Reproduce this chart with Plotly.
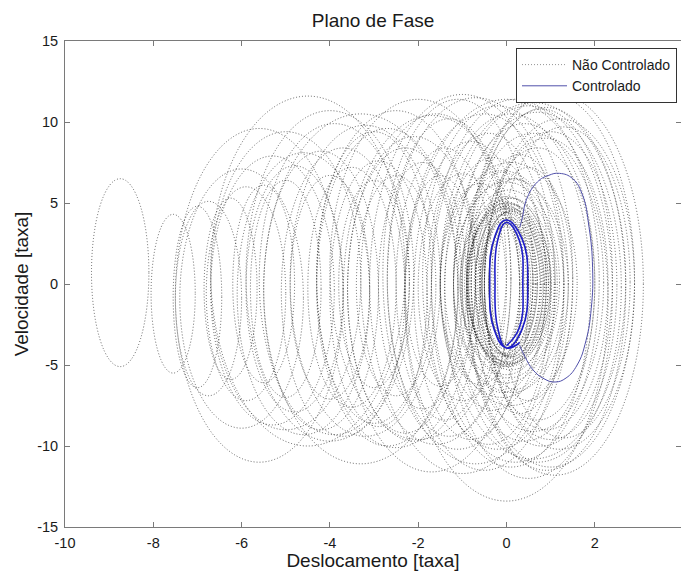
import plotly.graph_objects as go

# ---- Uncontrolled trajectory: loops (center x, center y, half-width, half-height)
loop_cx = [-8.75, -7.55, -7.0, -6.75, -6.25, -5.9, -5.6, -4.8, -4.5, -4.2, -3.9, -3.5, -3.3,
           -3.0, -2.7, -2.3, -2.0, -1.9, -1.6, -1.3, -1.0, -0.8, -0.5, -0.3, 0.0, 0.2, 0.4,
           0.6, 0.7, 0.9, 1.0, 1.1,
           -5.3, -5.0, -4.6, -4.0, -3.7, -3.2, -2.9, -2.5, -2.1, -1.7, -1.4, -1.1, -0.7,
           -0.4, -0.2, 0.1, 0.3, 0.5, 0.8, 1.2, 0.5, 0.2, -0.1, -0.6, -1.0, -1.5, -2.5,
           -3.0, -4.0, -5.0, -5.5, -6.0,
           1.0, 0.7, 0.9, 0.6, 1.3,
           0.0, 0.05, 0.0, 0.05, 0.0, 0.05, 0.0, 0.05, 0.0, 0.05, 0.0, 0.1, -0.1, 0.1,
           -0.05, 0.1, -0.05, 0.1,
           -0.1, 0.1, -0.1, 0.1, -0.1, 0.1, -0.05, 0.05, 0.0, 0.0, -0.15, 0.15, 0.0, 0.0]
loop_cy = [0.7, -0.6, -0.8, -0.9, -0.3, -0.6, -0.7, -0.3, 0.8, -0.4, 0.3, -0.2, -0.3,
           0.4, -0.2, -0.4, 0.9, -0.1, 0.3, 0.4, 0.0, -0.4, -0.5, 0.0, -1.0, 0.2, 0.1,
           0.2, 0.0, -0.3, -0.1, 0.0,
           -0.4, 0.2, -0.6, 0.5, -0.5, 0.2, -0.6, 0.3, -0.3, -0.6, 0.0, 0.6, 0.2,
           -0.3, 0.4, -0.4, 0.0, -0.5, 0.4, 0.0, 0.0, 0.0, 0.1, 0.0, -0.2, 0.2, -0.1,
           0.0, -0.2, -0.3, 0.0, -0.9,
           0.2, -0.2, 0.0, 0.1, 0.1,
           0.0, 0.1, -0.1, 0.0, 0.1, -0.1, 0.0, 0.1, -0.1, 0.0, 0.1, -0.1, 0.0, 0.0,
           0.0, 0.0, 0.0, 0.0,
           0.0, 0.0, 0.0, 0.0, 0.0, 0.0, 0.0, 0.0, 0.0, 0.0, 0.0, 0.0, 0.0, 0.0]
loop_hw = [0.65, 0.5, 0.55, 0.75, 0.6, 0.9, 1.9, 1.1, 2.2, 1.3, 1.7, 1.0, 2.2,
           1.3, 1.6, 1.3, 2.0, 1.0, 1.7, 1.4, 2.1, 1.3, 1.8, 1.2, 2.3, 1.9, 1.6,
           2.1, 1.3, 1.8, 1.5, 2.0,
           1.4, 1.7, 1.5, 1.9, 1.4, 1.7, 1.1, 1.8, 1.5, 2.0, 1.1, 1.7, 2.0,
           1.4, 1.7, 1.8, 1.1, 1.9, 1.6, 1.7, 1.0, 0.9, 1.0, 0.9, 1.0, 0.8, 0.9,
           0.8, 0.9, 0.8, 0.7, 1.4,
           1.9, 1.9, 1.4, 1.6, 1.5,
           0.35, 0.45, 0.55, 0.62, 0.7, 0.78, 0.86, 0.94, 1.02, 1.1, 1.2, 1.3, 1.4, 1.5,
           0.5, 0.66, 0.82, 0.98,
           0.4, 0.5, 0.6, 0.7, 0.8, 0.9, 1.0, 0.45, 0.65, 0.85, 0.75, 0.75, 0.95, 0.4]
loop_hh = [5.8, 4.9, 5.6, 6.0, 5.6, 6.6, 10.3, 7.6, 10.8, 8.6, 9.6, 7.4, 10.8,
           9.0, 9.8, 8.8, 10.5, 7.6, 10.2, 9.8, 11.7, 9.2, 11.0, 7.8, 12.4, 11.2, 9.8,
           11.0, 8.4, 11.2, 9.5, 11.8,
           8.3, 9.2, 8.7, 10.2, 8.9, 9.6, 8.2, 10.4, 9.4, 11.0, 8.4, 10.8, 11.3,
           9.6, 10.6, 10.9, 8.0, 11.5, 10.4, 10.2, 7.2, 6.5, 6.8, 6.2, 7.0, 6.5, 6.8,
           6.4, 6.9, 6.7, 6.1, 8.0,
           11.5, 10.8, 9.0, 9.2, 9.6,
           3.6, 3.9, 4.2, 4.4, 4.6, 4.8, 5.0, 5.2, 5.5, 5.8, 6.2, 6.6, 7.0, 7.5,
           4.0, 4.5, 4.9, 5.3,
           3.8, 4.1, 4.3, 4.5, 4.7, 4.9, 5.1, 3.9, 4.4, 4.8, 4.5, 4.6, 5.0, 3.7]

# ---- Controlled trajectory: points
# transient (large) loop
ctrl_big_x = [0.3, 0.36, 0.45, 0.7, 0.95, 1.2, 1.5, 1.72, 1.87, 1.95, 1.92, 1.8, 1.6,
              1.35, 1.1, 0.85, 0.6, 0.42, 0.3]
ctrl_big_y = [3.5, 4.1, 5.2, 6.3, 6.7, 6.83, 6.5, 5.5, 3.5, 1.0, -1.5, -3.5, -5.0,
              -5.8, -6.05, -5.85, -5.3, -4.5, -3.8]
# settled (small) orbit, traversed twice
ctrl_orb_x = [0.3, 0.0, -0.28, -0.38, -0.28, -0.01, 0.35, 0.48, 0.35, 0.0,
              -0.2, -0.26, -0.2, 0.0, 0.29, 0.37, 0.29, 0.0]
ctrl_orb_y = [-3.6, -3.95, -2.8, 0.0, 2.8, 3.95, 2.8, 0.0, -2.8, -3.95,
              -2.7, 0.0, 2.7, 3.8, 2.7, 0.0, -2.7, -3.8]

x_ticks = [-10, -8, -6, -4, -2, 0, 2]
y_ticks = [-15, -10, -5, 0, 5, 10, 15]

FONT = "Liberation Sans, Arial, sans-serif"
DOT = "1px,2px"
UNC_COLOR = "rgba(25,25,25,0.65)"
BIG_COLOR = "rgb(80,80,170)"
ORB_COLOR = "rgb(30,30,200)"

fig = go.Figure()

# legend entry for the uncontrolled trajectory (its loops are drawn as shapes)
fig.add_trace(go.Scatter(x=[None], y=[None], mode="lines", name="Não Controlado",
                         line=dict(color="rgba(120,120,120,0.8)", width=1, dash=DOT)))
fig.add_trace(go.Scatter(x=ctrl_big_x, y=ctrl_big_y, mode="lines", name="Controlado",
                         legendgroup="c",
                         line=dict(color=BIG_COLOR, width=1, shape="spline", smoothing=1.3)))
fig.add_trace(go.Scatter(x=ctrl_orb_x, y=ctrl_orb_y, mode="lines", name="Controlado",
                         legendgroup="c", showlegend=False,
                         line=dict(color=ORB_COLOR, width=1.6, shape="spline", smoothing=1.3)))

shapes = []
for cx, cy, hw, hh in zip(loop_cx, loop_cy, loop_hw, loop_hh):
    shapes.append(dict(type="circle", xref="x", yref="y",
                       x0=cx - hw, x1=cx + hw, y0=cy - hh, y1=cy + hh,
                       line=dict(color=UNC_COLOR, width=1, dash=DOT), layer="below"))

W, H = 681, 571
ML, MT, MB = 65, 41, 44
px_per_unit = 44.15
x_max = -10 + (W - ML) / px_per_unit
TXT = "#1a1a1a"
AX = "#7a7a7a"

fig.update_layout(
    width=W, height=H,
    margin=dict(l=ML, r=0, t=MT, b=MB, pad=0),
    paper_bgcolor="white", plot_bgcolor="white",
    shapes=shapes,
    font=dict(family=FONT, size=14.5, color=TXT),
    title=dict(text="Plano de Fase", x=0.5, xref="paper", xanchor="center",
               y=1 - 20 / H, yref="container", yanchor="middle",
               font=dict(family=FONT, size=19, color=TXT)),
    xaxis=dict(range=[-10, x_max], tickvals=x_ticks, ticktext=[str(v) for v in x_ticks],
               showgrid=False, zeroline=False, showline=True, linecolor=AX,
               linewidth=1, mirror="ticks", ticks="inside", ticklen=5, tickcolor=AX,
               tickfont=dict(size=14.5, color=TXT), ticklabelstandoff=3,
               title=dict(text="Deslocamento [taxa]", standoff=2,
                          font=dict(size=19, color=TXT))),
    yaxis=dict(range=[-15, 15], tickvals=y_ticks, ticktext=[str(v) for v in y_ticks],
               showgrid=False, zeroline=False, showline=True, linecolor=AX,
               linewidth=1, mirror="ticks", ticks="inside", ticklen=5, tickcolor=AX,
               tickfont=dict(size=14.5, color=TXT), ticklabelstandoff=3,
               title=dict(text="Velocidade [taxa]", standoff=3,
                          font=dict(size=19, color=TXT))),
    legend=dict(x=(516 - ML) / (W - ML), y=1 - (48 - MT) / (H - MT - MB),
                xanchor="left", yanchor="top", bgcolor="white",
                bordercolor="#333333", borderwidth=1, itemwidth=45,
                font=dict(size=14, color=TXT), tracegroupgap=0),
    showlegend=True,
)

fig.write_html("out.html")
